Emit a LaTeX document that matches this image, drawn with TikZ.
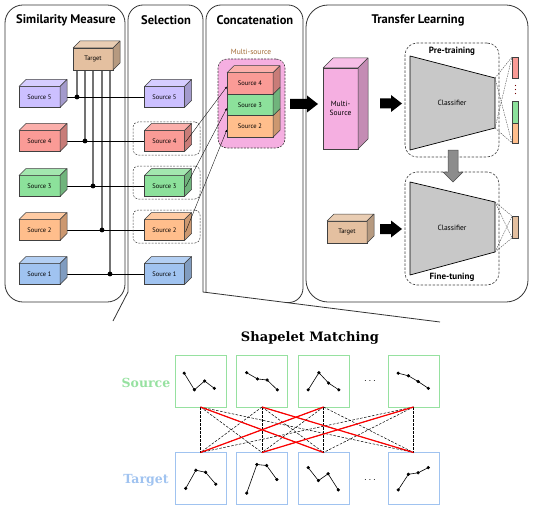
\documentclass[tikz,border=0pt]{standalone}
\usepackage{fontspec}
\setmainfont{PT Sans}
\newfontfamily\slab{DejaVu Serif}
\usetikzlibrary{calc,arrows.meta}
\definecolor{srcv}{RGB}{204,192,255}
\definecolor{srciv}{RGB}{250,155,150}
\definecolor{srciii}{RGB}{140,225,155}
\definecolor{srcii}{RGB}{255,190,140}
\definecolor{srci}{RGB}{160,195,240}
\definecolor{tgtc}{RGB}{228,192,160}
\definecolor{pinkc}{RGB}{245,175,225}
\definecolor{clsgray}{RGB}{200,200,200}
\definecolor{shgreen}{RGB}{150,225,160}
\definecolor{shblue}{RGB}{160,195,240}
\definecolor{msorange}{RGB}{160,105,50}
\newcommand\mycube[8]{%
 \node[cubefront, minimum width=#4pt, minimum height=#5pt, fill=#7] (#1) at (#2,#3) {#8};
 \filldraw[fill=#7!80!white, draw=black!75, line width=0.5pt, line join=round] (#1.north west) -- ++(#6,-#6) -- ++(#4,0) -- (#1.north east) -- cycle;
 \filldraw[fill=#7!80!black, draw=black!75, line width=0.5pt, line join=round] (#1.north east) -- ++(#6,-#6) -- ++(0,#5) -- (#1.south east) -- cycle;
}
% horizontal block arrow: name, x0, x1, y
\newcommand\harrow[4]{%
 \coordinate (#1) at (#3,#4);
 \fill[black] (#2,#4-5) -- (#3-11,#4-5) -- (#3-11,#4-8.5) -- (#3,#4) -- (#3-11,#4+8.5) -- (#3-11,#4+5) -- (#2,#4+5) -- cycle;}
\newcommand\shapelet[2]{\begin{scope}[shift={(#1.north west)}]\draw[line width=0.6pt, mark size=1.3pt] plot[mark=*] coordinates {#2};\end{scope}}
\begin{document}
\begin{tikzpicture}[x=1pt,y=-1pt,
 panel/.style={draw=black!80, line width=0.8pt},
 ptitle/.style={font=\bfseries\fontsize{12.5}{14}\selectfont},
 cubefront/.style={draw=black!75, line width=0.5pt, inner sep=0pt, outer sep=0pt, font=\fontsize{6.5}{7}\selectfont},
 dashbox/.style={draw=black!75, dash pattern=on 2pt off 1.3pt, rounded corners=5pt, line width=0.5pt, inner sep=0pt, outer sep=0pt},
 bigdash/.style={draw=black!75, dash pattern=on 2.5pt off 1.5pt, rounded corners=12pt, line width=0.6pt, inner sep=0pt, outer sep=0pt},
 hline/.style={line width=0.7pt, black},
 vline/.style={line width=1.4pt, black!55},
 feed/.style={line width=0.35pt, -{Latex[length=2.5pt,width=2pt]}},
 outdash/.style={line width=0.4pt, dash pattern=on 1.5pt off 1pt, black!70},
 bar/.style={draw=black!75, line width=0.5pt, minimum width=6pt, inner sep=0pt, outer sep=0pt},
 shbox/.style={line width=1pt, minimum width=51pt, minimum height=52pt, inner sep=0pt, outer sep=0pt},
 match/.style={line width=0.5pt, dash pattern=on 2.5pt off 1.5pt},
 redmatch/.style={line width=1.2pt, red},
 smalllab/.style={font=\fontsize{7.5}{8.5}\selectfont},
]
\useasboundingbox (0,0) rectangle (534,513);
% ---------- panels ----------
\draw[panel, rounded corners=18pt] (5,5) rectangle (125,302);
\draw[panel, rounded corners=15pt] (128,292) -- (128,5) -- (203,5) -- (203,292);
\draw[panel] (113,321) -- (128,292);
\draw[panel] (203,292) -- (440,322);
\draw[panel, rounded corners=15pt] (206,292) -- (206,5) -- (303,5) -- (303,303) -- (286,302.5);
\draw[panel, rounded corners=22pt] (306,5) rectangle (528,302);
\node[ptitle] (t-sim) at (66,20) {Similarity Measure};
\node[ptitle] (t-sel) at (166,20) {Selection};
\node[ptitle] (t-con) at (255,20) {Concatenation};
\node[ptitle] (t-tl) at (418,20) {Transfer Learning};
% ---------- similarity measure ----------
\coordinate (d5) at (77,97);
\coordinate (d4) at (85,141);
\coordinate (d3) at (93,186);
\coordinate (d2) at (102,230);
\coordinate (d1) at (110,274);
\foreach \k in {5,4,3,2,1} \draw[vline] (d\k |- 0,66) -- (d\k);
\draw[hline] (60,97) -- (145,97);
\draw[hline] (60,141) -- (145,141);
\draw[hline] (60,186) -- (145,186);
\draw[hline] (60,230) -- (145,230);
\draw[hline] (60,274) -- (145,274);
\mycube{tg}{93}{59}{40}{22}{7}{tgtc}{Target}
\mycube{a5}{39.5}{97}{41}{21}{7}{srcv}{Source 5}
\mycube{a4}{39.5}{141}{41}{21}{7}{srciv}{Source 4}
\mycube{a3}{39.5}{186}{41}{21}{7}{srciii}{Source 3}
\mycube{a2}{39.5}{230}{41}{21}{7}{srcii}{Source 2}
\mycube{a1}{39.5}{274}{41}{21}{7}{srci}{Source 1}
\foreach \k in {5,4,3,2,1} \fill (d\k) circle (2.4pt);
% ---------- selection ----------
\node[dashbox, minimum width=67pt, minimum height=33pt] (sb4) at (166.5,138.5) {};
\node[dashbox, minimum width=67pt, minimum height=33pt] (sb3) at (166.5,182.5) {};
\node[dashbox, minimum width=67pt, minimum height=33pt] (sb2) at (166.5,226.5) {};
\mycube{b5}{164.5}{97}{40}{21}{7}{srcv}{Source 5}
\mycube{b4}{164.5}{141}{40}{21}{7}{srciv}{Source 4}
\mycube{b3}{164.5}{186}{40}{21}{7}{srciii}{Source 3}
\mycube{b2}{164.5}{230}{40}{21}{7}{srcii}{Source 2}
\mycube{b1}{164.5}{274}{40}{21}{7}{srci}{Source 1}
% ---------- concatenation ----------
\node[draw=black!75, fill=pinkc, dash pattern=on 2pt off 1.3pt, rounded corners=9pt, line width=0.6pt, minimum width=67pt, minimum height=89pt, inner sep=0pt] (ms) at (251.5,103.5) {};
\node[font=\fontsize{7.5}{8.5}\selectfont, text=msorange] (mslab) at (251,52) {Multi-source};
\mycube{c2}{250}{126.5}{46}{21.5}{7}{srcii}{Source 2}
\mycube{c3}{250}{105}{46}{21.5}{7}{srciii}{Source 3}
\mycube{c4}{250}{83.5}{46}{21.5}{7}{srciv}{Source 4}
\draw[feed] ($(b4.east)+(1,1)$) -- ($(c4.west)+(0,3)$);
\draw[feed] ($(b3.east)+(1,1)$) -- ($(c3.west)+(0,3)$);
\draw[feed] ($(b2.east)+(1,2)$) -- ($(c2.west)+(0,3)$);
% ---------- transfer learning ----------
\harrow{ar1}{290}{318}{104}
\mycube{mc}{340.5}{108.5}{35}{81}{10}{pinkc}{}
\node[smalllab, align=center] (mclab) at (mc) {Multi-\\Source};
\harrow{ar2}{380}{402}{103.5}
\mycube{tt}{347}{232}{40}{22}{7}{tgtc}{Target}
\harrow{ar3}{380}{402}{229}
% pre-training
\node[bigdash, minimum width=94pt, minimum height=114pt] (pre) at (452,100) {};
\coordinate (p1) at (410,56); \coordinate (p2) at (495,78);
\coordinate (p3) at (495,128); \coordinate (p4) at (410,150);
\draw[fill=clsgray, line width=0.7pt, line join=round] (p1) -- (p2) -- (p3) -- (p4) -- cycle;
\node[smalllab] (cl1) at (452,103) {Classifier};
\node[font=\bfseries\fontsize{9}{10}\selectfont] (prelab) at (452,51) {Pre-training};
% fine-tuning
\node[bigdash, minimum width=94pt, minimum height=113pt] (fine) at (452,228.5) {};
\coordinate (q1) at (410,182); \coordinate (q2) at (495,202);
\coordinate (q3) at (495,252); \coordinate (q4) at (410,275);
\draw[fill=clsgray, line width=0.7pt, line join=round] (q1) -- (q2) -- (q3) -- (q4) -- cycle;
\node[smalllab] (cl2) at (452,228) {Classifier};
\node[font=\bfseries\fontsize{9}{10}\selectfont] (finelab) at (452,277) {Fine-tuning};
% gray arrow
\coordinate (gar) at (453,182);
\filldraw[fill=black!45, draw=black!70, line width=0.5pt, line join=miter] (448,150) -- (458,150) -- (458,172) -- (463,172) -- (453,182) -- (443,172) -- (448,172) -- cycle;
% output bars
\node[bar, fill=srciv, minimum height=21pt] (o1) at (515,67.5) {};
\node[bar, fill=srciii, minimum height=22pt] (o2) at (515,112) {};
\node[bar, fill=srcii, minimum height=20pt] (o3) at (515,133) {};
\node[bar, fill=tgtc, minimum height=22pt] (o4) at (515,227) {};
\draw[outdash] (p2) -- (o1.north west); \draw[outdash] (p2) -- (o3.south west);
\draw[outdash] (p3) -- (o1.north west); \draw[outdash] (p3) -- (o3.south west);
\draw[outdash] (q2) -- (o4.north west); \draw[outdash] (q2) -- (o4.south west);
\draw[outdash] (q3) -- (o4.north west); \draw[outdash] (q3) -- (o4.south west);
\foreach \yy in {85.5,89.5,93.5} \fill[red!45!black] (515.5,\yy) circle (0.65pt);
% ---------- shapelet matching ----------
\node[font=\slab\bfseries\fontsize{13}{15}\selectfont] (smt) at (310,338) {Shapelet Matching};
\node[font=\slab\bfseries\fontsize{12.5}{14}\selectfont, text=shgreen] (srclab) at (146,383) {Source};
\node[font=\slab\bfseries\fontsize{12.5}{14}\selectfont, text=shblue] (tgtlab) at (146,480) {Target};
\node[shbox, draw=shgreen] (s1) at (200.5,381) {};
\node[shbox, draw=shgreen] (s2) at (262,381) {};
\node[shbox, draw=shgreen] (s3) at (323.5,381) {};
\node[shbox, draw=shgreen] (s4) at (413.5,381) {};
\node[shbox, draw=shblue] (u1) at (200.5,478.5) {};
\node[shbox, draw=shblue] (u2) at (262,478.5) {};
\node[shbox, draw=shblue] (u3) at (323.5,478.5) {};
\node[shbox, draw=shblue] (u4) at (413.5,478.5) {};
\node (sdots) at (370,381) {$\cdots$};
\node (tdots) at (370,480) {$\cdots$};
\shapelet{s1}{(9.2,18.2) (19.4,34.8) (29.6,26) (39.3,33.3)}
\shapelet{s2}{(10.2,17.7) (20.9,23.9) (30.6,25) (40.8,34.8)}
\shapelet{s3}{(10.2,34.8) (20.9,17.7) (30.6,28.1) (40.8,34.8)}
\shapelet{s4}{(10.2,18.2) (20.4,20.8) (30.1,26.5) (40.3,33.3)}
\shapelet{u1}{(10.7,35.9) (20.9,17.7) (30.6,19.8) (40.8,31.7)}
\shapelet{u2}{(10.2,40.6) (20.4,12) (30.1,13) (40.3,27)}
\shapelet{u3}{(10.2,15.1) (20.4,28.1) (30.1,21.3) (40.3,37.4)}
\shapelet{u4}{(10.2,37.4) (20.4,21.8) (30.1,20.3) (40.3,15.1)}
\foreach \i in {1,...,4} \foreach \j in {1,...,4} \draw[match] (s\i.south) -- (u\j.north);
\draw[redmatch] (s1.south) -- (u3.north);
\draw[redmatch] (s2.south) -- (u4.north);
\draw[redmatch] (s3.south) -- (u1.north);
\draw[redmatch] (s4.south) -- (u2.north);
\end{tikzpicture}
\end{document}
